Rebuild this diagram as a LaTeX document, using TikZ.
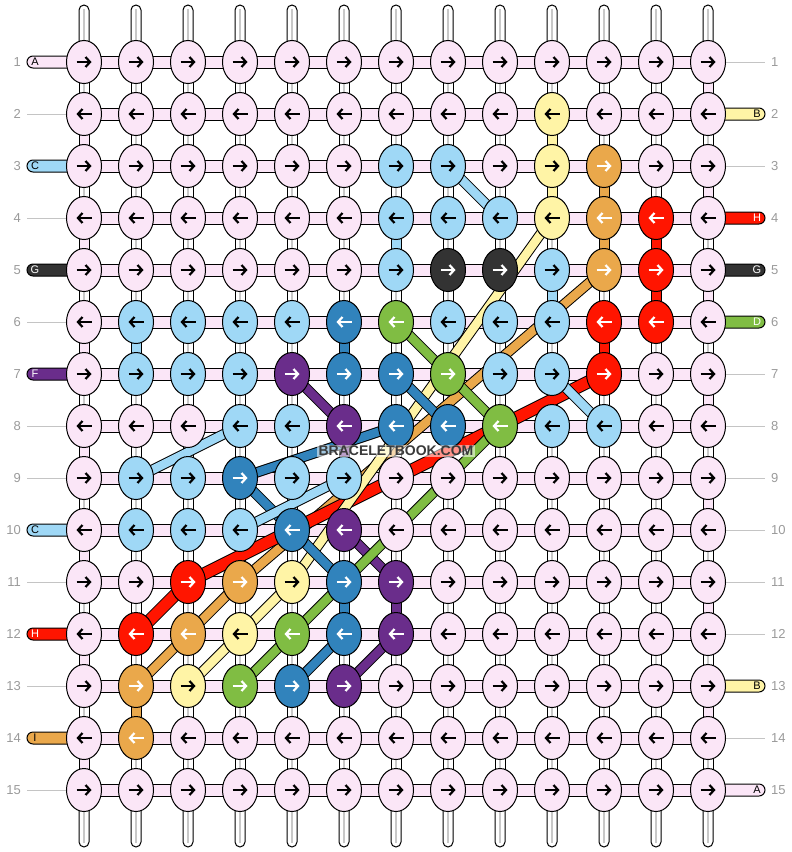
\documentclass[tikz,border=0pt]{standalone}
\usepackage{fontspec}
\setmainfont{Liberation Sans}
\usetikzlibrary{arrows.meta,shapes.geometric}
\definecolor{pk}{HTML}{FBE6F7}
\definecolor{lb}{HTML}{9FD8F6}
\definecolor{yl}{HTML}{FFF4A6}
\definecolor{og}{HTML}{EAA84B}
\definecolor{rd}{HTML}{FF1500}
\definecolor{dk}{HTML}{333333}
\definecolor{gn}{HTML}{80BD43}
\definecolor{db}{HTML}{3183BC}
\definecolor{pu}{HTML}{6A2D8B}
\definecolor{numgray}{HTML}{9A9A9A}
\definecolor{linegray}{HTML}{C4C4C4}
\definecolor{midgray}{HTML}{C8C8C8}
\definecolor{wmgray}{HTML}{3A3A3A}
\newcommand\arrcol[2]{\expandafter\def\csname ac-#1\endcsname{#2}}
\arrcol{pk}{black}\arrcol{lb}{black}\arrcol{yl}{black}\arrcol{og}{white}
\arrcol{rd}{white}\arrcol{dk}{white}\arrcol{gn}{white}\arrcol{db}{white}\arrcol{pu}{white}
\tikzset{
  knot/.style={ellipse, draw=black, line width=1pt, minimum width=35pt, minimum height=43pt, inner sep=0pt},
  arr/.style={line width=2.2pt, -{Straight Barb[length=4.5pt,width=10pt]}},
  wpair/.style={draw=black, fill=white, line width=1pt},
  wmid/.style={draw=midgray, line width=2.5pt},
  vconn/.style={draw=black, line width=1pt},
  hconn/.style={draw=black, fill=pk, line width=1pt},
  stub/.style={draw=black, line width=1pt, rounded corners=6pt},
  thread/.style={draw=black, line width=1pt, double=#1, double distance=8.5pt},
  thickthread/.style={draw=black, line width=1pt, double=#1, double distance=11pt},
  gline/.style={draw=linegray, line width=1pt},
  num/.style={text=numgray, font=\fontsize{13}{13}\selectfont, inner sep=0pt},
  stubtxt/.style={font=\fontsize{11}{11}\selectfont, inner sep=0pt},
}
\begin{document}
\begin{tikzpicture}[x=1pt,y=-1pt]
\useasboundingbox (0,0) rectangle (792,852);
% grid coordinates
\foreach \r in {1,...,15}{
  \foreach \c in {1,...,13}{
    \coordinate (p-\r-\c) at ({32+52*\c},{10+52*\r});
  }
  \coordinate (ls-\r) at (27,{10+52*\r});
  \coordinate (rs-\r) at (765,{10+52*\r});
}
\foreach \c in {1,...,13}{
  \coordinate (top-\c) at ({32+52*\c},5);
  \coordinate (bot-\c) at ({32+52*\c},847);
}
% knot colours
\foreach \r/\c/\k in {2/10/yl,
  3/7/lb,3/8/lb,3/10/yl,3/11/og,
  4/7/lb,4/8/lb,4/9/lb,4/10/yl,4/11/og,4/12/rd,
  5/7/lb,5/8/dk,5/9/dk,5/10/lb,5/11/og,5/12/rd,
  6/2/lb,6/3/lb,6/4/lb,6/5/lb,6/6/db,6/7/gn,6/8/lb,6/9/lb,6/10/lb,6/11/rd,6/12/rd,
  7/2/lb,7/3/lb,7/4/lb,7/5/pu,7/6/db,7/7/db,7/8/gn,7/9/lb,7/10/lb,7/11/rd,
  8/4/lb,8/5/lb,8/6/pu,8/7/db,8/8/db,8/9/gn,8/10/lb,8/11/lb,
  9/2/lb,9/3/lb,9/4/db,9/5/lb,9/6/lb,
  10/2/lb,10/3/lb,10/4/lb,10/5/db,10/6/pu,
  11/3/rd,11/4/og,11/5/yl,11/6/db,11/7/pu,
  12/2/rd,12/3/og,12/4/yl,12/5/gn,12/6/db,12/7/pu,
  13/2/og,13/3/yl,13/4/gn,13/5/db,13/6/pu,
  14/2/og}{
  \expandafter\xdef\csname kc-\r-\c\endcsname{\k}
}
% white vertical pairs
\foreach \c in {1,...,13}{
  \draw[wpair, rounded corners=5pt] ([xshift=-5pt]p-1-\c) -- ([xshift=-5pt]top-\c) -- ([xshift=5pt]top-\c) -- ([xshift=5pt]p-1-\c);
  \draw[wmid] ([yshift=-4pt]top-\c) -- (p-1-\c);
  \draw[wpair, rounded corners=5pt] ([xshift=-5pt]p-15-\c) -- ([xshift=-5pt]bot-\c) -- ([xshift=5pt]bot-\c) -- ([xshift=5pt]p-15-\c);
  \draw[wmid] (p-15-\c) -- ([yshift=4pt]bot-\c);
  \foreach \r [evaluate=\r as \rn using int(\r+1)] in {1,...,14}{
    \draw[wpair] ([xshift=-5pt]p-\r-\c) rectangle ([xshift=5pt]p-\rn-\c);
    \draw[wmid] (p-\r-\c) -- (p-\rn-\c);
  }
}
% coloured vertical connectors
\foreach \r/\c/\col [evaluate=\r as \rn using int(\r+1)] in {
  1/13/pk,3/13/pk,5/13/pk,7/13/pk,9/13/pk,11/13/pk,13/13/pk,
  2/1/pk,4/1/pk,6/1/pk,8/1/pk,10/1/pk,12/1/pk,14/1/pk,
  2/10/yl,3/10/yl,3/11/og,4/11/og,13/2/og,4/12/rd,5/12/rd,6/11/rd,
  4/7/lb,5/10/lb,6/2/lb,6/6/db,11/6/db,8/6/pu,9/6/pu,11/7/pu}{
  \draw[vconn, fill=\col] ([xshift=-5pt]p-\r-\c) rectangle ([xshift=5pt]p-\rn-\c);
}
% horizontal connectors
\foreach \r in {1,...,15}{
  \foreach \c [evaluate=\c as \cn using int(\c+1)] in {1,...,12}{
    \draw[hconn] ([yshift=6pt]p-\r-\c) rectangle ([yshift=-6pt]p-\r-\cn);
  }
}
% thread stubs
\foreach \r/\col in {1/pk,3/lb,5/dk,7/pu,10/lb,12/rd,14/og}{
  \draw[stub, fill=\col] ([yshift=-6pt]p-\r-1) -- ([yshift=-6pt]ls-\r) -- ([yshift=6pt]ls-\r) -- ([yshift=6pt]p-\r-1);
}
\foreach \r/\col in {2/yl,4/rd,5/dk,6/gn,13/yl,15/pk}{
  \draw[stub, fill=\col] ([yshift=-6pt]p-\r-13) -- ([yshift=-6pt]rs-\r) -- ([yshift=6pt]rs-\r) -- ([yshift=6pt]p-\r-13);
}
% diagonal threads
\foreach \ra/\ca/\rb/\cb in {5/11/11/4,11/4/12/3,12/3/13/2}{
  \draw[thread=og] (p-\ra-\ca) -- (p-\rb-\cb);}
\foreach \ra/\ca/\rb/\cb in {7/11/11/3,11/3/12/2}{
  \draw[thickthread=rd] (p-\ra-\ca) -- (p-\rb-\cb);}
\foreach \ra/\ca/\rb/\cb in {4/10/11/5,11/5/12/4,12/4/13/3}{
  \draw[thread=yl] (p-\ra-\ca) -- (p-\rb-\cb);}
\foreach \ra/\ca/\rb/\cb in {7/7/8/8,8/7/9/4,9/4/10/5,10/5/11/6,12/6/13/5}{
  \draw[thread=db] (p-\ra-\ca) -- (p-\rb-\cb);}
\foreach \ra/\ca/\rb/\cb in {7/5/8/6,10/6/11/7,12/7/13/6}{
  \draw[thread=pu] (p-\ra-\ca) -- (p-\rb-\cb);}
\foreach \ra/\ca/\rb/\cb in {6/7/7/8,7/8/8/9,8/9/12/5,12/5/13/4}{
  \draw[thread=gn] (p-\ra-\ca) -- (p-\rb-\cb);}
\foreach \ra/\ca/\rb/\cb in {3/8/4/9,7/10/8/11,8/4/9/2,9/6/10/4}{
  \draw[thread=lb] (p-\ra-\ca) -- (p-\rb-\cb);}
% knots
\foreach \r in {1,...,15}{
  \foreach \c in {1,...,13}{
    \ifcsname kc-\r-\c\endcsname
      \xdef\kcol{\csname kc-\r-\c\endcsname}%
    \else
      \gdef\kcol{pk}%
    \fi
    \xdef\acol{\csname ac-\kcol\endcsname}%
    \node[knot, fill=\kcol] (k-\r-\c) at (p-\r-\c) {};
    \ifodd\r\relax
      \draw[arr, draw=\acol] ([xshift=-7.5pt]k-\r-\c.center) -- ([xshift=7.5pt]k-\r-\c.center);
    \else
      \draw[arr, draw=\acol] ([xshift=7.5pt]k-\r-\c.center) -- ([xshift=-7.5pt]k-\r-\c.center);
    \fi
  }
}
% stub letters
\foreach \r/\lab/\tc in {1/A/black,3/C/black,5/G/white,7/F/white,10/C/black,12/H/white,14/I/black}{
  \node[stubtxt, text=\tc] (lt-\r) at ([xshift=8pt]ls-\r) {\lab};
}
\foreach \r/\lab/\tc in {2/B/black,4/H/white,5/G/white,6/D/white,13/B/black,15/A/black}{
  \node[stubtxt, text=\tc] (rt-\r) at ([xshift=-8pt]rs-\r) {\lab};
}
% grey guide lines
\foreach \r in {2,4,6,8,9,11,13,15}{
  \draw[gline] (ls-\r) -- (k-\r-1.west);
}
\foreach \r in {1,3,7,8,9,10,11,12,14}{
  \draw[gline] (k-\r-13.east) -- (rs-\r);
}
% row numbers
\foreach \r in {1,...,15}{
  \node[num, anchor=east] (nl-\r) at ([xshift=-6pt]ls-\r) {\r};
  \node[num, anchor=west] (nr-\r) at ([xshift=6pt]rs-\r) {\r};
}
% watermark
\node[font=\bfseries\fontsize{14}{14}\selectfont, text=wmgray, fill=white, fill opacity=0.55, text opacity=1, inner sep=1.5pt] (wm) at (396,451) {BRACELETBOOK.COM};
\end{tikzpicture}
\end{document}
